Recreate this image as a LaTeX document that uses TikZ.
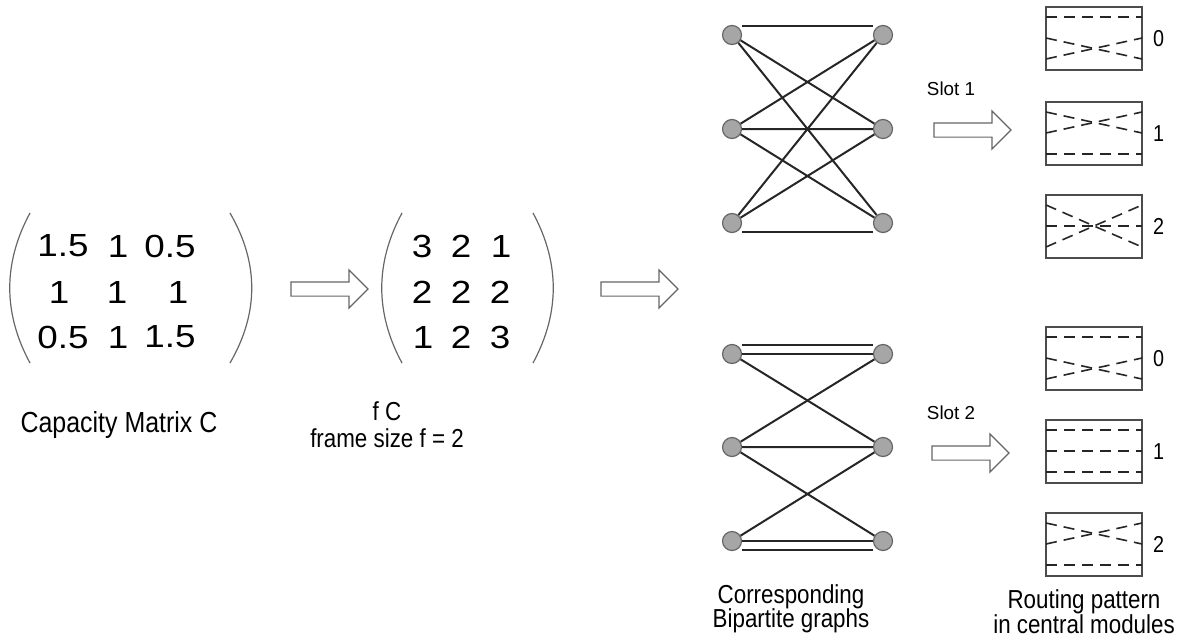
\documentclass[tikz,border=0pt]{standalone}
\usepackage{fontspec}
\setmainfont{Liberation Sans}
\newfontfamily\narrowsans{Liberation Sans}[FakeStretch=0.86]
\newfontfamily\widesans{Liberation Sans}[FakeStretch=1.15]
\usetikzlibrary{positioning, shapes.arrows}

\begin{document}
\begin{tikzpicture}[x=0.5pt, y=-0.5pt,
        vertex/.style={circle, draw=black!60, fill=black!35, line width=0.6pt, minimum size=9.5pt, inner sep=0pt},
        edge/.style={line width=1pt, black!85},
        entry/.style={font=\widesans\fontsize{16}{18}\selectfont, inner sep=0pt},
        caption/.style={font=\narrowsans\fontsize{13}{15}\selectfont, anchor=base, inner sep=0pt},
        slot/.style={font=\fontsize{9.4}{11}\selectfont, anchor=base, inner sep=0pt},
        num/.style={font=\narrowsans\fontsize{11.5}{13}\selectfont, inner sep=0pt},
        paren/.style={line width=0.6pt, black!60},
        hollow/.style={single arrow, draw=black!60, line width=0.6pt, fill=white, inner xsep=0pt, inner ysep=3.25pt,
            minimum height=38.5pt, single arrow head extend=6pt},
        module/.style={draw=black!70, line width=0.8pt, minimum width=48pt, minimum height=31.5pt, inner sep=0pt},
        route/.style={line width=0.8pt, black!85, dash pattern=on 5.5pt off 3.5pt}]

                \useasboundingbox (0,0) rectangle (1181,642);

                % capacity matrix C
                \draw[paren] (30,213) .. controls (3,263) and (3,313) .. (30,363);
                \draw[paren] (230,213) .. controls (259,263) and (259,313) .. (230,363);
                \node[entry] (c11) at (63,246) {1.5};
                \node[entry] (c12) at (118,246) {1};
                \node[entry] (c13) at (170,246) {0.5};
                \node[entry] (c21) at (59,292) {1};
                \node[entry] (c22) at (117,292) {1};
                \node[entry] (c23) at (178,292) {1};
                \node[entry] (c31) at (63,337) {0.5};
                \node[entry] (c32) at (118,337) {1};
                \node[entry] (c33) at (170,337) {1.5};
                \node[caption, font=\narrowsans\fontsize{14.5}{16}\selectfont] (cap) at (119,432) {Capacity Matrix C};

                \node[hollow] (a1) at (326,289) {};

                % scaled matrix f C
                \draw[paren] (402,213) .. controls (375,263) and (375,313) .. (402,363);
                \draw[paren] (533,213) .. controls (560,263) and (560,313) .. (533,363);
                \node[entry] (f11) at (422,246) {3};
                \node[entry] (f12) at (461,246) {2};
                \node[entry] (f13) at (501,246) {1};
                \node[entry] (f21) at (422,292) {2};
                \node[entry] (f22) at (461,292) {2};
                \node[entry] (f23) at (500,292) {2};
                \node[entry] (f31) at (423,337) {1};
                \node[entry] (f32) at (461,337) {2};
                \node[entry] (f33) at (500,337) {3};
                \node[caption] (fc) at (387,420) {f C};
                \node[caption] (fsize) at (387,447) {frame size f = 2};

                \node[hollow] (a2) at (636,289) {};

                % bipartite graph, slot 1
                \node[vertex] (u1) at (732,35) {};
                \node[vertex] (u2) at (732,129) {};
                \node[vertex] (u3) at (732,223) {};
                \node[vertex] (v1) at (883,35) {};
                \node[vertex] (v2) at (883,129) {};
                \node[vertex] (v3) at (883,223) {};
                \draw[edge] ([yshift=4.5pt]u1.east) -- ([yshift=4.5pt]v1.west);
                \draw[edge] (u1) -- (v2) (u1) -- (v3);
                \draw[edge] (u2) -- (v1) (u2) -- (v2) (u2) -- (v3);
                \draw[edge] (u3) -- (v1) (u3) -- (v2);
                \draw[edge] ([yshift=-4.5pt]u3.east) -- ([yshift=-4.5pt]v3.west);

                % bipartite graph, slot 2
                \node[vertex] (p1) at (732,354) {};
                \node[vertex] (p2) at (732,447) {};
                \node[vertex] (p3) at (732,541) {};
                \node[vertex] (q1) at (883,354) {};
                \node[vertex] (q2) at (883,447) {};
                \node[vertex] (q3) at (883,541) {};
                \draw[edge] (p1) -- (q1) ([yshift=4.5pt]p1.east) -- ([yshift=4.5pt]q1.west);
                \draw[edge] (p1) -- (q2);
                \draw[edge] (p2) -- (q1) (p2) -- (q2) (p2) -- (q3);
                \draw[edge] (p3) -- (q2);
                \draw[edge] (p3) -- (q3) ([yshift=-4.5pt]p3.east) -- ([yshift=-4.5pt]q3.west);
                \node[caption] (corr) at (791,603) {Corresponding};
                \node[caption] (bip) at (791,627) {Bipartite graphs};

                \node[slot] (sl1) at (951,96) {Slot 1};
                \node[hollow] (s1) at (969,130) {};
                \node[slot] (sl2) at (951,419) {Slot 2};
                \node[hollow] (s2) at (967,453) {};

                % central modules: slot / module / top / row reached from top, middle, bottom
                \foreach \s/\k/\t/\a/\b/\c in {1/0/7/0/2/1, 1/1/102/1/0/2, 1/2/195/2/1/0,
                                               2/0/327/0/2/1, 2/1/420/0/1/2, 2/2/513/1/0/2}{
                    \node[module] (m\s\k) at (1094,\t+31.5) {};
                    \node[num, right=5pt of m\s\k] {\k};
                    \draw[route] (1046,\t+10) -- (1142,\t+10+21*\a);
                    \draw[route] (1046,\t+31) -- (1142,\t+10+21*\b);
                    \draw[route] (1046,\t+52) -- (1142,\t+10+21*\c);
                }
                \node[caption] (rout) at (1084,608) {Routing pattern};
                \node[caption] (incm) at (1084,633) {in central modules};
\end{tikzpicture}
\end{document}
